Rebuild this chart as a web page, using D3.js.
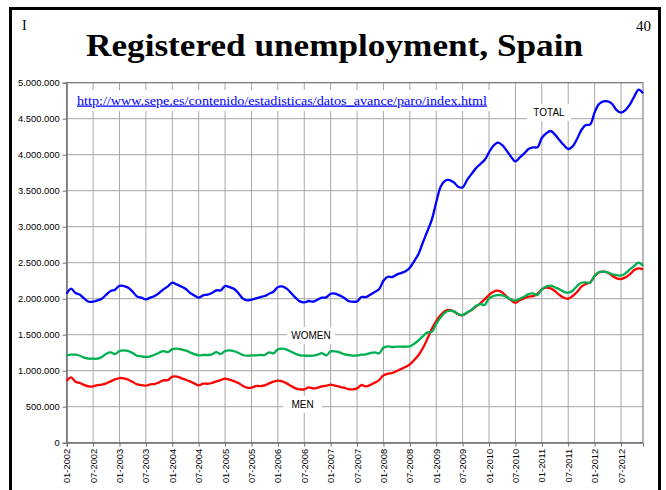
<!DOCTYPE html>
<html>
<head>
<meta charset="utf-8">
<script src="https://cdn.jsdelivr.net/npm/d3@7"></script>
<style>
  body { margin: 0; background: #fff; }
  svg { display: block; }
</style>
</head>
<body>
<div id="chart"></div>
<script>
// monthly series, thousands of people, 01-2002 .. 12-2012
var totalK = [
  2069, 2139, 2079, 2056, 2000, 1958, 1958, 1977, 2000, 2056, 2106, 2125,
  2180, 2176, 2153, 2097, 2032, 2014, 1991, 2014, 2037, 2079, 2130, 2171,
  2222, 2199, 2171, 2139, 2083, 2046, 2014, 2046, 2056, 2079, 2116, 2116,
  2176, 2162, 2139, 2079, 2005, 1977, 1986, 2005, 2023, 2037, 2069, 2097,
  2162, 2171, 2139, 2079, 2014, 1963, 1949, 1968, 1958, 1986, 2014, 2018,
  2069, 2069, 2046, 2014, 1968, 1958, 1963, 2023, 2023, 2056, 2093, 2130,
  2250, 2305, 2300, 2335, 2356, 2382, 2431, 2523, 2625, 2787, 2940, 3097,
  3340, 3556, 3639, 3648, 3616, 3556, 3546, 3648, 3731, 3810, 3870, 3926,
  4032, 4125, 4167, 4134, 4056, 3972, 3907, 3963, 4019, 4079, 4102, 4102,
  4232, 4296, 4329, 4278, 4204, 4134, 4079, 4116, 4218, 4343, 4412, 4421,
  4588, 4704, 4741, 4741, 4704, 4620, 4583, 4620, 4695, 4806, 4903, 4852
];
var womenK = [
  1213, 1222, 1222, 1208, 1181, 1167, 1167, 1167, 1190, 1236, 1255, 1231,
  1273, 1282, 1273, 1245, 1208, 1199, 1190, 1199, 1222, 1250, 1273, 1259,
  1300, 1306, 1296, 1282, 1255, 1231, 1213, 1218, 1218, 1227, 1259, 1231,
  1273, 1282, 1273, 1250, 1218, 1208, 1213, 1213, 1218, 1218, 1255, 1241,
  1296, 1306, 1292, 1264, 1236, 1213, 1208, 1208, 1208, 1222, 1245, 1213,
  1268, 1268, 1255, 1231, 1218, 1208, 1213, 1222, 1227, 1245, 1255, 1241,
  1319, 1338, 1329, 1333, 1333, 1333, 1338, 1375, 1421, 1481, 1532, 1540,
  1650, 1741, 1806, 1833, 1824, 1787, 1773, 1810, 1843, 1898, 1926, 1912,
  2005, 2037, 2051, 2046, 2023, 1991, 1972, 2000, 2028, 2065, 2074, 2051,
  2130, 2167, 2181, 2157, 2130, 2097, 2083, 2111, 2176, 2222, 2227, 2222,
  2315, 2370, 2375, 2366, 2338, 2329, 2319, 2352, 2407, 2454, 2500, 2454
];
var menK = [
  856, 907, 847, 829, 801, 782, 782, 801, 806, 824, 852, 880,
  898, 894, 875, 843, 810, 801, 792, 810, 815, 838, 866, 870,
  917, 917, 898, 875, 852, 824, 796, 819, 819, 829, 852, 870,
  889, 875, 856, 829, 792, 764, 764, 787, 787, 796, 824, 847,
  861, 852, 824, 787, 755, 741, 741, 769, 755, 764, 782, 792,
  806, 792, 778, 764, 745, 741, 755, 801, 782, 801, 833, 870,
  935, 958, 968, 995, 1023, 1051, 1088, 1148, 1218, 1319, 1444, 1583,
  1690, 1773, 1829, 1843, 1824, 1782, 1769, 1806, 1843, 1889, 1935, 1991,
  2051, 2097, 2111, 2088, 2028, 1981, 1944, 1981, 2005, 2028, 2037, 2065,
  2130, 2153, 2144, 2106, 2051, 2014, 2000, 2037, 2093, 2167, 2204, 2227,
  2315, 2366, 2375, 2361, 2319, 2282, 2273, 2296, 2338, 2398, 2421, 2407
];
var tickLabels = [
  "01-2002", "07-2002", "01-2003", "07-2003", "01-2004", "07-2004",
  "01-2005", "07-2005", "01-2006", "07-2006", "01-2007", "07-2007",
  "01-2008", "07-2008", "01-2009", "07-2009", "01-2010", "07-2010",
  "01-2011", "07-2011", "01-2012", "07-2012"
];
var yTicks = [0, 500000, 1000000, 1500000, 2000000, 2500000, 3000000, 3500000, 4000000, 4500000, 5000000];

// month categories "MM-YYYY"
var months = [];
for (var yr = 2002; yr <= 2012; yr++) {
  for (var mo = 1; mo <= 12; mo++) {
    months.push((mo < 10 ? "0" : "") + mo + "-" + yr);
  }
}

var W = 666, H = 490;
var plot = {left: 66.7, right: 643, top: 82.7, bottom: 442.7};

var svg = d3.select("#chart").append("svg")
  .attr("width", W)
  .attr("height", H);

// slide frame
svg.append("rect")
  .attr("x", 10.5).attr("y", 8.5)
  .attr("width", 649).attr("height", 500)
  .attr("fill", "none")
  .attr("stroke", "#000")
  .attr("stroke-width", 3);

svg.append("text")
  .attr("x", 22).attr("y", 30)
  .style("font-family", "'Liberation Serif', serif")
  .style("font-size", "14px")
  .text("I");
svg.append("text")
  .attr("x", 651).attr("y", 31)
  .attr("text-anchor", "end")
  .style("font-family", "'Liberation Serif', serif")
  .style("font-size", "15px")
  .text("40");

svg.append("text")
  .attr("x", 86).attr("y", 56)
  .attr("textLength", 497)
  .attr("lengthAdjust", "spacingAndGlyphs")
  .style("font-family", "'Liberation Serif', serif")
  .style("font-size", "31px")
  .style("font-weight", "bold")
  .text("Registered unemployment, Spain");

// scales
var x = d3.scalePoint()
  .domain(months)
  .range([plot.left, plot.right]);
var y = d3.scaleLinear()
  .domain([0, 5000000])
  .range([plot.bottom, plot.top]);

var es = d3.formatLocale({decimal: ",", thousands: ".", grouping: [3], currency: ["", ""]});
var fmt = es.format(",");

var g = svg.append("g");

// gridlines
g.selectAll(".hgrid")
  .data(yTicks)
  .enter().append("line")
    .attr("x1", plot.left).attr("x2", plot.right)
    .attr("y1", function(d) { return y(d); })
    .attr("y2", function(d) { return y(d); })
    .style("stroke", "#a6a6a6")
    .style("stroke-width", 1);
g.selectAll(".vgrid")
  .data(tickLabels)
  .enter().append("line")
    .attr("x1", function(d) { return x(d); })
    .attr("x2", function(d) { return x(d); })
    .attr("y1", plot.top).attr("y2", plot.bottom)
    .style("stroke", "#a6a6a6")
    .style("stroke-width", 1);

// plot border
g.append("rect")
  .attr("x", plot.left).attr("y", plot.top)
  .attr("width", plot.right - plot.left)
  .attr("height", plot.bottom - plot.top)
  .attr("fill", "none")
  .style("stroke", "#707070")
  .style("stroke-width", 1);

// axes
var yAxis = g.append("g")
  .attr("transform", "translate(" + plot.left + ",0)")
  .call(d3.axisLeft(y).tickValues(yTicks).tickFormat(fmt).tickSize(4).tickPadding(3));
yAxis.selectAll("text")
  .style("font-family", "'Liberation Sans', Arial, sans-serif")
  .style("font-size", "9.4px")
  .style("fill", "#000");

var xAxis = g.append("g")
  .attr("transform", "translate(0," + plot.bottom + ")")
  .call(d3.axisBottom(x).tickValues(tickLabels).tickSize(4).tickPadding(4));
xAxis.selectAll("text")
  .attr("transform", "rotate(-90)")
  .attr("text-anchor", "end")
  .attr("x", -6)
  .attr("y", 0)
  .attr("dy", "0.32em")
  .style("font-family", "'Liberation Sans', Arial, sans-serif")
  .style("font-size", "9.4px")
  .style("fill", "#000");
[yAxis, xAxis].forEach(function(a) {
  a.selectAll(".domain, line").style("stroke", "#707070");
});

// url box
g.append("rect")
  .attr("x", 74).attr("y", 90)
  .attr("width", 416).attr("height", 21)
  .attr("fill", "#fff");
g.append("text")
  .attr("x", 77).attr("y", 104.5)
  .attr("textLength", 410)
  .attr("lengthAdjust", "spacingAndGlyphs")
  .style("font-family", "'Liberation Serif', serif")
  .style("font-size", "12.5px")
  .style("fill", "#0000ff")
  .style("text-decoration", "underline")
  .text("http://www.sepe.es/contenido/estadisticas/datos_avance/paro/index.html");

// series lines
var series = [
  {name: "TOTAL", values: totalK, color: "#0000ff"},
  {name: "MEN", values: menK, color: "#ff0000"},
  {name: "WOMEN", values: womenK, color: "#00b050"}
];
var line = d3.line()
  .x(function(d, i) { return x(months[i]); })
  .y(function(d) { return y(d * 1000); })
  .curve(d3.curveCatmullRom.alpha(0.5));

series.forEach(function(s) {
  g.append("path")
    .datum(s.values)
    .attr("d", line)
    .attr("fill", "none")
    .style("stroke", s.color)
    .style("stroke-width", 2.3)
    .style("stroke-linejoin", "round");
});

// series labels
var labels = [
  {text: "TOTAL", cx: 549, cy: 112.5, w: 44},
  {text: "WOMEN", cx: 311, cy: 335.5, w: 48},
  {text: "MEN", cx: 302.5, cy: 404.5, w: 39}
];
labels.forEach(function(l) {
  g.append("rect")
    .attr("x", l.cx - l.w / 2).attr("y", l.cy - 8.5)
    .attr("width", l.w).attr("height", 17)
    .attr("fill", "#fff");
  g.append("text")
    .attr("x", l.cx).attr("y", l.cy)
    .attr("text-anchor", "middle")
    .attr("dy", "0.35em")
    .style("font-family", "'Liberation Sans', Arial, sans-serif")
    .style("font-size", "10px")
    .style("fill", "#000")
    .text(l.text);
});
</script>
</body>
</html>
